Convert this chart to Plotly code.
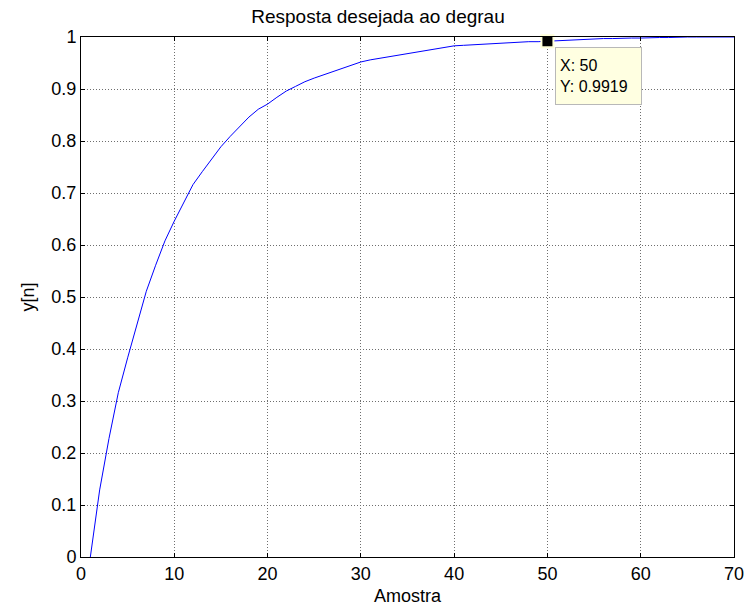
import plotly.graph_objects as go

# Amostras (n) e resposta desejada y[n]
n = list(range(1, 71))
y = [
    0.000, 0.129, 0.228, 0.316, 0.383, 0.449, 0.511, 0.561, 0.608, 0.646,
    0.681, 0.716, 0.741, 0.765, 0.789, 0.809, 0.828, 0.846, 0.861, 0.871,
    0.884, 0.896, 0.905, 0.914, 0.921, 0.927, 0.933, 0.940, 0.946, 0.952,
    0.956, 0.959, 0.962, 0.965, 0.968, 0.971, 0.974, 0.977, 0.980, 0.983,
    0.984, 0.985, 0.987, 0.988, 0.989, 0.990, 0.990, 0.991, 0.991, 0.9919,
    0.993, 0.994, 0.995, 0.996, 0.996, 0.997, 0.997, 0.998, 0.998, 0.998,
    0.999, 0.999, 0.999, 1.000, 1.000, 1.000, 1.000, 1.000, 1.000, 1.000,
]

# Ponto marcado pelo cursor de dados
tip_x = 50
tip_y = y[n.index(tip_x)]

x_ticks = [0, 10, 20, 30, 40, 50, 60, 70]
y_ticks = [0, 0.1, 0.2, 0.3, 0.4, 0.5, 0.6, 0.7, 0.8, 0.9, 1]
y_ticklabels = ["0", "0.1", "0.2", "0.3", "0.4", "0.5", "0.6", "0.7", "0.8", "0.9", "1"]

FONT = "Liberation Sans, Arial, sans-serif"

fig = go.Figure()
fig.add_trace(go.Scatter(
    x=n, y=y, mode="lines",
    line=dict(color="#0000ff", width=1),
    showlegend=False, hoverinfo="skip",
))
fig.add_trace(go.Scatter(
    x=[tip_x], y=[tip_y], mode="markers",
    marker=dict(symbol="square", size=12, color="black",
                line=dict(color="#ffffd8", width=2)),
    cliponaxis=False, showlegend=False, hoverinfo="skip",
))

fig.add_annotation(
    x=tip_x, y=tip_y, xref="x", yref="y",
    text=f"X: {tip_x}<br>Y: {tip_y:.4f}",
    showarrow=False, xanchor="left", yanchor="top",
    xshift=8, yshift=-6, align="left",
    width=77, height=48, borderpad=4, borderwidth=1,
    bgcolor="#ffffe1", bordercolor="#b8b8b8",
    font=dict(family=FONT, size=16, color="black"),
)

axis_common = dict(
    showline=True, linecolor="black", linewidth=1, mirror="ticks",
    ticks="inside", ticklen=4, tickcolor="black", tickwidth=1,
    showgrid=True, gridcolor="#6e6e6e", griddash="1px,2px", gridwidth=1,
    zeroline=False,
    tickfont=dict(family=FONT, size=18, color="black"),
)

fig.update_xaxes(
    range=[0, 70], tickvals=x_ticks,
    title=dict(text="Amostra", font=dict(family=FONT, size=18, color="black"), standoff=6),
    **axis_common,
)
fig.update_yaxes(
    range=[0, 1], tickvals=y_ticks, ticktext=y_ticklabels,
    title=dict(text="y[n]", font=dict(family=FONT, size=18, color="black"), standoff=12),
    **axis_common,
)

fig.update_layout(
    width=756, height=614,
    margin=dict(l=81, r=16, t=37, b=57),
    paper_bgcolor="white", plot_bgcolor="white",
    title=dict(text="Resposta desejada ao degrau", x=0.5, xanchor="center",
               y=1 - 16 / 614, yanchor="middle", yref="container",
               font=dict(family=FONT, size=19, color="black")),
)

fig.write_html("out.html")
